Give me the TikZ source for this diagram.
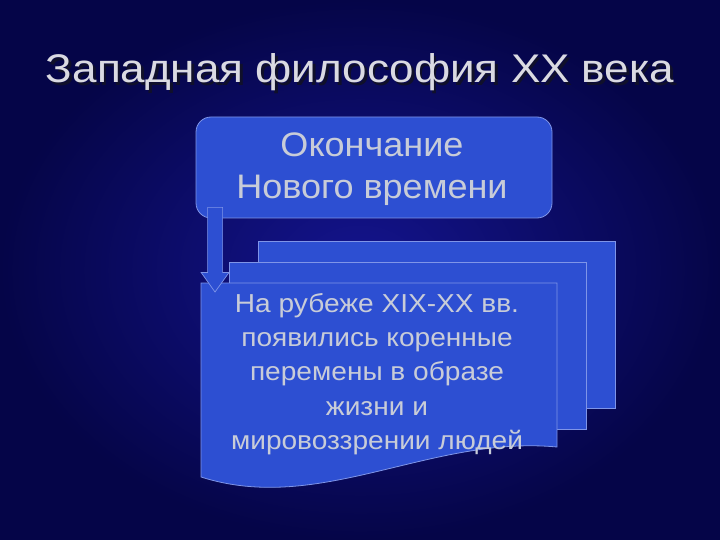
\documentclass[tikz,border=0pt]{standalone}
\usepackage{fontspec}
\setmainfont{Liberation Sans}
\usetikzlibrary{calc}
\definecolor{bgin}{HTML}{14148E}
\definecolor{bgout}{HTML}{050548}
\definecolor{boxfill}{HTML}{2D4FD2}
\definecolor{boxline}{HTML}{7F95E8}
\definecolor{txt}{HTML}{C8CCD8}
\definecolor{titletxt}{HTML}{DADAE2}
\definecolor{shadow}{HTML}{10102A}
\newcommand{\shadowedtitle}[1]{\makebox[0pt][l]{\kern2.5pt\raisebox{-2.5pt}{\color{shadow}#1}}#1}
\tikzset{
  panel/.style={fill=boxfill, draw=boxline, line width=0.8pt},
  bodytext/.style={text=txt, align=center, font=\fontsize{26}{34.4}\selectfont, inner sep=0pt, xscale=1.08},
  boxtext/.style={text=txt, align=center, font=\fontsize{34}{42}\selectfont, inner sep=0pt, xscale=1.06},
  titlefont/.style={font=\fontsize{40}{48}\selectfont, inner sep=0pt, anchor=base, xscale=1.1},
}
\begin{document}
\begin{tikzpicture}[x=1pt,y=-1pt]
\useasboundingbox (0,0) rectangle (720,540);
\shade[inner color=bgin, outer color=bgout] (0,0) rectangle (720,540);
% title
\node[titlefont, text=titletxt] (title) at (360,83) {\shadowedtitle{Западная философия XX века}};
% top rounded box
\node[panel, rounded corners=15pt, minimum width=356pt, minimum height=101pt, inner sep=0pt] (top) at (374,167.5) {};
\node[boxtext] (toptext) at (372,169.5) {Окончание\\Нового времени};
% stacked documents
\draw[panel] (258,241) rectangle (615,408);
\draw[panel] (229,262) rectangle (586,429);
\draw[panel] (201,283) coordinate (docnw) -- (557,283) -- (557,447)
   .. controls (430,435) and (320,515) .. (201,477) -- cycle;
\node[bodytext] (doctext) at (377,374) {На рубеже XIX-XX вв.\\появились коренные\\перемены в образе\\жизни и\\мировоззрении людей};
% block arrow from top box down to the document
\coordinate (as) at ($(top.south west)+(19.5,-11)$);
\coordinate (at) at (215,292);
\draw[panel, line width=0.7pt] ($(as)+(-7.5,0)$) -- ($(as)+(7.5,0)$) -- ($(as)+(7.5,65)$) -- ($(as)+(14,65)$)
   -- (at) -- ($(as)+(-14,65)$) -- ($(as)+(-7.5,65)$) -- cycle;
\end{tikzpicture}
\end{document}
